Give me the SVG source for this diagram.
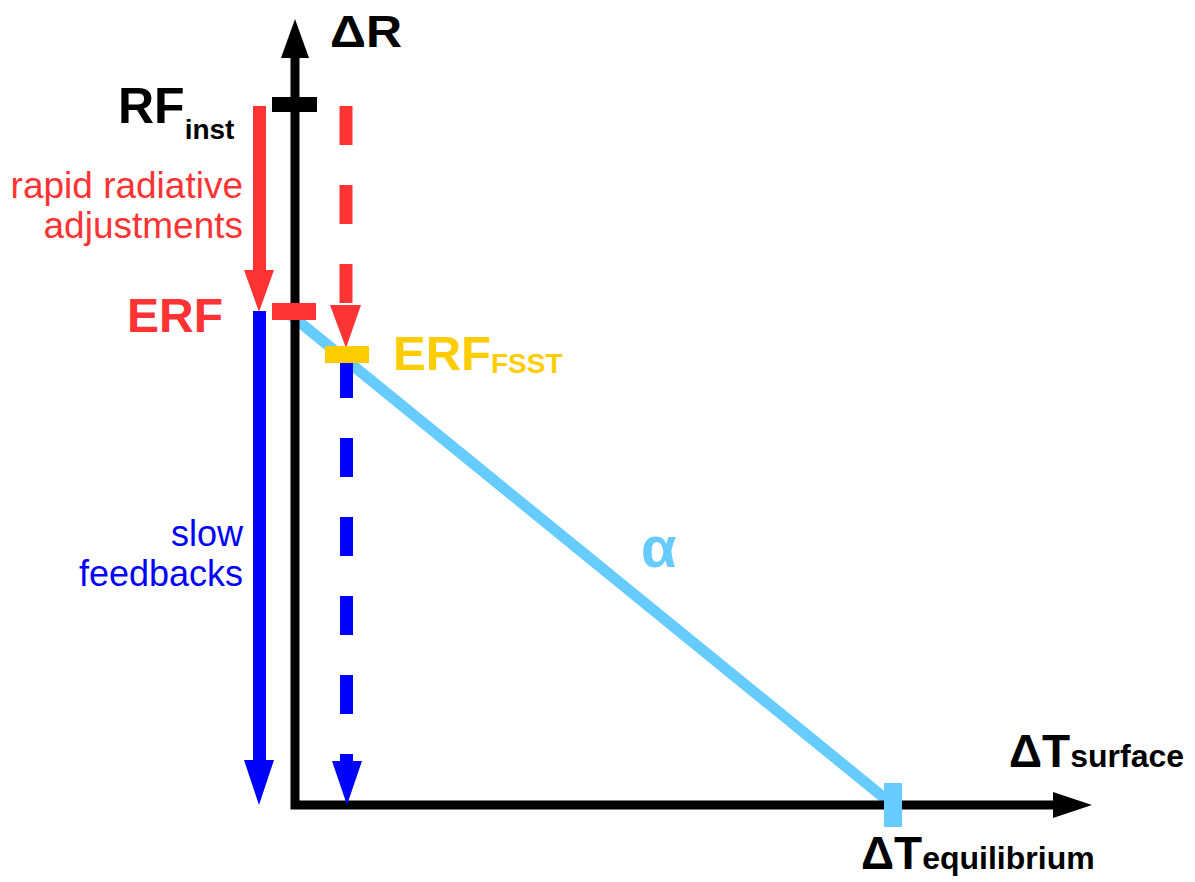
<svg xmlns="http://www.w3.org/2000/svg" width="1195" height="882" viewBox="0 0 1195 882">
<style>
.b{font-family:"Liberation Sans",Arial,sans-serif;font-weight:bold}
.r{font-family:"Liberation Sans",Arial,sans-serif}
.red{fill:#FF3333}.blue{fill:#0000FF}.lb{fill:#66CCFF}.yel{fill:#FFCC00}.blk{fill:#000}
</style>
<rect width="1195" height="882" fill="#fff"/>
<g id="connectors">
  <line id="alpha-line" x1="292" y1="316" x2="893" y2="805" stroke="#66CCFF" stroke-width="11"/>
  <path id="axes" d="M295,50 L295,805 L1060,805" fill="none" stroke="#000" stroke-width="9" stroke-linejoin="miter"/>
  <polygon class="blk" points="295,19 281,58 309,58"/>
  <polygon class="blk" points="1092,805 1053,792 1053,818"/>
  <g id="rapid-arrow">
    <rect class="red" x="253" y="106" width="13" height="166"/>
    <polygon class="red" points="244,270 274,270 259,312"/>
  </g>
  <g id="slow-arrow">
    <rect class="blue" x="253" y="311" width="13" height="451"/>
    <polygon class="blue" points="244,760 274,760 259,805"/>
  </g>
  <g id="red-dashed">
    <line x1="346" y1="106" x2="346" y2="305" stroke="#FF3333" stroke-width="13" stroke-dasharray="39 40"/>
    <polygon class="red" points="330,305 361,305 346,348"/>
  </g>
  <g id="blue-dashed">
    <line x1="346.5" y1="359" x2="346.5" y2="761" stroke="#0000FF" stroke-width="13" stroke-dasharray="39 40"/>
    <polygon class="blue" points="332,761 362,761 347,805"/>
  </g>
</g>
<g id="node-dR"><text class="b" x="330" y="47" font-size="44" textLength="72" lengthAdjust="spacingAndGlyphs">ΔR</text></g>
<g id="node-RFinst">
  <rect class="blk" x="272" y="97" width="45" height="15"/>
  <text class="b" x="118" y="123" font-size="50">RF<tspan font-size="28" y="139">inst</tspan></text>
</g>
<g id="node-rapid">
  <text class="r red" x="243" y="198" font-size="37" text-anchor="end">rapid radiative</text>
  <text class="r red" x="243" y="238" font-size="37" text-anchor="end">adjustments</text>
</g>
<g id="node-ERF">
  <rect class="red" x="272" y="303" width="44" height="17"/>
  <text class="b red" x="223" y="332" font-size="48" text-anchor="end">ERF</text>
</g>
<g id="node-ERFFSST">
  <rect class="yel" x="325" y="346" width="44" height="17"/>
  <text class="b yel" x="393" y="370" font-size="49">ERF<tspan font-size="28" y="373">FSST</tspan></text>
</g>
<g id="node-slow">
  <text class="r blue" x="243" y="546" font-size="36" text-anchor="end">slow</text>
  <text class="r blue" x="243" y="586" font-size="36" text-anchor="end">feedbacks</text>
</g>
<g id="node-alpha"><text class="b lb" x="641" y="567" font-size="58">α</text></g>
<g id="node-Tsurface"><text class="b" x="1009" y="767" font-size="46">ΔT<tspan font-size="32">surface</tspan></text></g>
<g id="node-Teq">
  <rect class="lb" x="884" y="783" width="18" height="44"/>
  <text class="b" x="861" y="869" font-size="46">ΔT<tspan font-size="32">equilibrium</tspan></text>
</g>
</svg>
